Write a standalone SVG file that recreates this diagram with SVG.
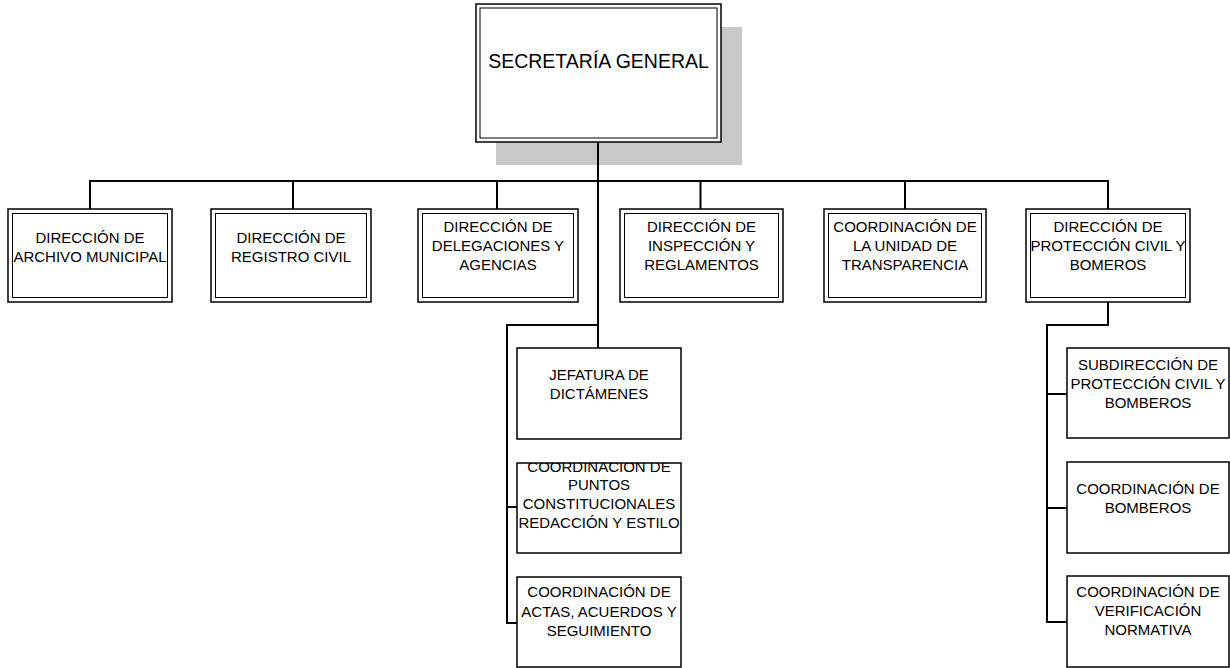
<svg xmlns="http://www.w3.org/2000/svg" width="1230" height="668" viewBox="0 0 1230 668">
  <defs>
    <style>
      .bg { fill: #ffffff; }
      .outer { fill: #ffffff; stroke: #000000; stroke-width: 1.5; }
      .inner { fill: none; stroke: #000000; stroke-width: 1; }
      .single { fill: #ffffff; stroke: #000000; stroke-width: 1.5; }
      .shadow { fill: #c8c8c8; }
      .conn { fill: none; stroke: #000000; stroke-width: 2; }
      .lbl { font-family: "Liberation Sans", Arial, sans-serif; font-size: 15px; fill: #000000; text-anchor: middle; }
      .title { font-family: "Liberation Sans", Arial, sans-serif; font-size: 19.5px; fill: #000000; text-anchor: middle; }
    </style>
    <clipPath id="clipPuntos">
      <rect x="517" y="463" width="164" height="90"/>
    </clipPath>
  </defs>
  <rect class="bg" x="0" y="0" width="1230" height="668"/>

  <g id="node-secretaria">
    <rect class="shadow" x="496" y="27" width="246" height="138"/>
    <rect class="outer" x="476" y="4" width="245" height="138"/>
    <rect class="inner" x="480" y="8" width="237" height="130"/>
    <text class="title" x="598.5" y="68">SECRETARÍA GENERAL</text>
  </g>

  <g id="connectors">
    <path class="conn" d="M598 142 V348"/>
    <path class="conn" d="M90 209 V181 H1108 V209"/>
    <path class="conn" d="M293 181 V209"/>
    <path class="conn" d="M497 181 V209"/>
    <path class="conn" d="M700.5 181 V209"/>
    <path class="conn" d="M905 181 V209"/>
    <path class="conn" d="M598 325 H507 V623 H517"/>
    <path class="conn" d="M507 507 H517"/>
    <path class="conn" d="M1108 302 V325 H1047 V622 H1067"/>
    <path class="conn" d="M1047 394 H1067"/>
    <path class="conn" d="M1047 508 H1067"/>
  </g>

  <g id="node-archivo">
    <rect class="outer" x="8" y="209" width="164" height="93"/>
    <rect class="inner" x="12.5" y="213.5" width="155" height="84"/>
    <text class="lbl" x="90" y="242.5">DIRECCIÓN DE</text>
    <text class="lbl" x="90" y="261.5">ARCHIVO MUNICIPAL</text>
  </g>

  <g id="node-registro">
    <rect class="outer" x="211" y="209" width="160" height="93"/>
    <rect class="inner" x="215.5" y="213.5" width="151" height="84"/>
    <text class="lbl" x="291" y="242.5">DIRECCIÓN DE</text>
    <text class="lbl" x="291" y="261.5">REGISTRO CIVIL</text>
  </g>

  <g id="node-delegaciones">
    <rect class="outer" x="418" y="209" width="160" height="93"/>
    <rect class="inner" x="422.5" y="213.5" width="151" height="84"/>
    <text class="lbl" x="498" y="232">DIRECCIÓN DE</text>
    <text class="lbl" x="498" y="251">DELEGACIONES Y</text>
    <text class="lbl" x="498" y="270">AGENCIAS</text>
  </g>

  <g id="node-inspeccion">
    <rect class="outer" x="620" y="209" width="163" height="93"/>
    <rect class="inner" x="624.5" y="213.5" width="154" height="84"/>
    <text class="lbl" x="701.5" y="232">DIRECCIÓN DE</text>
    <text class="lbl" x="701.5" y="251">INSPECCIÓN Y</text>
    <text class="lbl" x="701.5" y="270">REGLAMENTOS</text>
  </g>

  <g id="node-transparencia">
    <rect class="outer" x="824" y="209" width="162" height="93"/>
    <rect class="inner" x="828.5" y="213.5" width="153" height="84"/>
    <text class="lbl" x="905" y="232">COORDINACIÓN DE</text>
    <text class="lbl" x="905" y="251">LA UNIDAD DE</text>
    <text class="lbl" x="905" y="270">TRANSPARENCIA</text>
  </g>

  <g id="node-proteccion">
    <rect class="outer" x="1026" y="209" width="164" height="93"/>
    <rect class="inner" x="1030.5" y="213.5" width="155" height="84"/>
    <text class="lbl" x="1108" y="232">DIRECCIÓN DE</text>
    <text class="lbl" x="1108" y="251">PROTECCIÓN CIVIL Y</text>
    <text class="lbl" x="1108" y="270">BOMEROS</text>
  </g>

  <g id="node-dictamenes">
    <rect class="single" x="517" y="348" width="164" height="91"/>
    <text class="lbl" x="599" y="379.5">JEFATURA DE</text>
    <text class="lbl" x="599" y="398.5">DICTÁMENES</text>
  </g>

  <g id="node-puntos">
    <rect class="single" x="517" y="463" width="164" height="90"/>
    <g clip-path="url(#clipPuntos)">
      <text class="lbl" x="599" y="471.5">COORDINACIÓN DE</text>
      <text class="lbl" x="599" y="490">PUNTOS</text>
      <text class="lbl" x="599" y="509">CONSTITUCIONALES</text>
      <text class="lbl" x="599" y="528">REDACCIÓN Y ESTILO</text>
    </g>
  </g>

  <g id="node-actas">
    <rect class="single" x="517" y="577" width="164" height="90"/>
    <text class="lbl" x="599" y="597">COORDINACIÓN DE</text>
    <text class="lbl" x="599" y="616.5">ACTAS, ACUERDOS Y</text>
    <text class="lbl" x="599" y="636">SEGUIMIENTO</text>
  </g>

  <g id="node-subdireccion">
    <rect class="single" x="1067" y="348" width="162" height="90"/>
    <text class="lbl" x="1148" y="370">SUBDIRECCIÓN DE</text>
    <text class="lbl" x="1148" y="389">PROTECCIÓN CIVIL Y</text>
    <text class="lbl" x="1148" y="408">BOMBEROS</text>
  </g>

  <g id="node-bomberos">
    <rect class="single" x="1067" y="462" width="162" height="91"/>
    <text class="lbl" x="1148" y="493.5">COORDINACIÓN DE</text>
    <text class="lbl" x="1148" y="512.5">BOMBEROS</text>
  </g>

  <g id="node-verificacion">
    <rect class="single" x="1067" y="576" width="162" height="91"/>
    <text class="lbl" x="1148" y="597">COORDINACIÓN DE</text>
    <text class="lbl" x="1148" y="616">VERIFICACIÓN</text>
    <text class="lbl" x="1148" y="635">NORMATIVA</text>
  </g>
</svg>
